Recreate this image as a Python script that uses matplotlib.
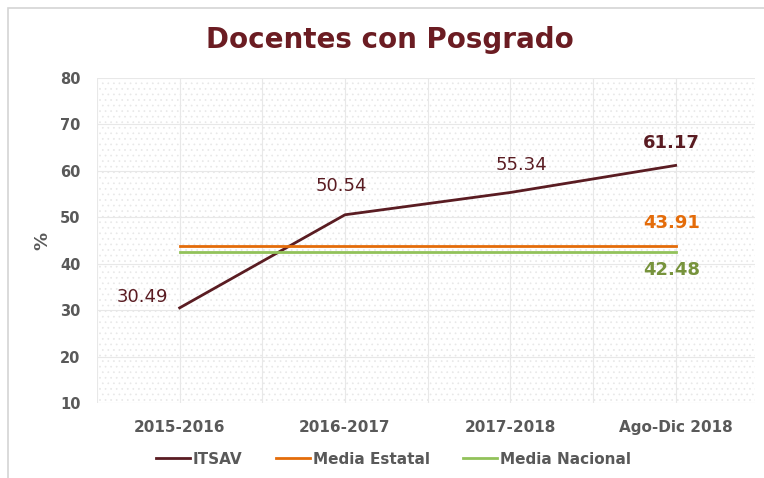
import numpy as np
import matplotlib.pyplot as plt
from matplotlib.patches import Rectangle

# data
categories = ['2015-2016', '2016-2017', '2017-2018', 'Ago-Dic 2018']
itsav = [30.49, 50.54, 55.34, 61.17]
media_estatal = [43.91, 43.91, 43.91, 43.91]
media_nacional = [42.48, 42.48, 42.48, 42.48]

c_itsav = '#5a1c22'
c_est = '#e46c0a'
c_nac = '#92c25a'
c_nac_txt = '#77933c'
c_tick = '#595959'

plt.rcParams['hatch.linewidth'] = 0.5
plt.rcParams['hatch.color'] = '#e8e8e8'

fig = plt.figure(figsize=(7.64, 4.78), dpi=100)
# outer chart border
fig.patches.append(Rectangle((8/764, -0.05), 1.0, 1 - 8/478 + 0.05, transform=fig.transFigure,
                             fill=False, edgecolor='#d4d4d4', linewidth=1.2))

ax = fig.add_axes([97/764, 1 - 403/478, (755-97)/764, (403-78)/478])
x = np.arange(len(categories))

# dotted background
ax.add_patch(Rectangle((0, 0), 1, 1, transform=ax.transAxes, facecolor='white',
                       hatch='...', edgecolor='#e8e8e8', linewidth=0, zorder=0))

ax.plot(x, itsav, color=c_itsav, lw=2, label='ITSAV', zorder=3)
ax.plot(x, media_estatal, color=c_est, lw=2, label='Media Estatal', zorder=3)
ax.plot(x, media_nacional, color=c_nac, lw=2, label='Media Nacional', zorder=3)

ax.set_xlim(-0.5, 3.48)
ax.set_ylim(10, 80)
ax.set_yticks(range(10, 81, 10))
ax.set_xticks(x)
ax.set_xticklabels(categories, fontsize=11, fontweight='bold', color=c_tick)
ax.tick_params(axis='y', labelsize=10.5, colors=c_tick, length=0, pad=12)
ax.tick_params(axis='x', length=0, pad=12)
for lab in ax.get_yticklabels():
    lab.set_fontweight('bold')

# grid every half category and every 10
for gx in np.arange(-0.5, 3.6, 0.5):
    ax.axvline(gx, color='#e8e8e8', lw=0.8, zorder=1)
for gy in range(10, 81, 10):
    ax.axhline(gy, color='#e8e8e8', lw=0.8, zorder=1)
for s in ax.spines.values():
    s.set_visible(False)

ax.set_ylabel('%', fontsize=13, fontweight='bold', color=c_tick, labelpad=6)

# value labels
ax.annotate(f'{itsav[0]:.2f}', (x[0], itsav[0]), xytext=(-8, 1), textcoords='offset points',
            ha='right', va='bottom', fontsize=13, color=c_itsav)
ax.annotate(f'{itsav[1]:.2f}', (x[1], itsav[1]), xytext=(-3, 14), textcoords='offset points',
            ha='center', va='bottom', fontsize=13, color=c_itsav)
ax.annotate(f'{itsav[2]:.2f}', (x[2], itsav[2]), xytext=(8, 13), textcoords='offset points',
            ha='center', va='bottom', fontsize=13, color=c_itsav)
ax.annotate(f'{itsav[3]:.2f}', (x[3], itsav[3]), xytext=(-3, 10), textcoords='offset points',
            ha='center', va='bottom', fontsize=13, fontweight='bold', color=c_itsav)
ax.annotate(f'{media_estatal[3]:.2f}', (x[3], media_estatal[3]), xytext=(-3, 10), textcoords='offset points',
            ha='center', va='bottom', fontsize=13, fontweight='bold', color=c_est)
ax.annotate(f'{media_nacional[3]:.2f}', (x[3], media_nacional[3]), xytext=(-3, -6), textcoords='offset points',
            ha='center', va='top', fontsize=13, fontweight='bold', color=c_nac_txt)

fig.suptitle('Docentes con Posgrado', x=0.51, y=0.945, fontsize=20, fontweight='bold', color='#6b1c22')

leg = fig.legend(loc='center', bbox_to_anchor=(0.515, 1 - 459/478), ncol=3, frameon=False,
                 fontsize=11, handlelength=2.2, handletextpad=0.2, columnspacing=2.2)
for t in leg.get_texts():
    t.set_color(c_tick)
    t.set_fontweight('bold')

fig.savefig('out.png', dpi=100)
